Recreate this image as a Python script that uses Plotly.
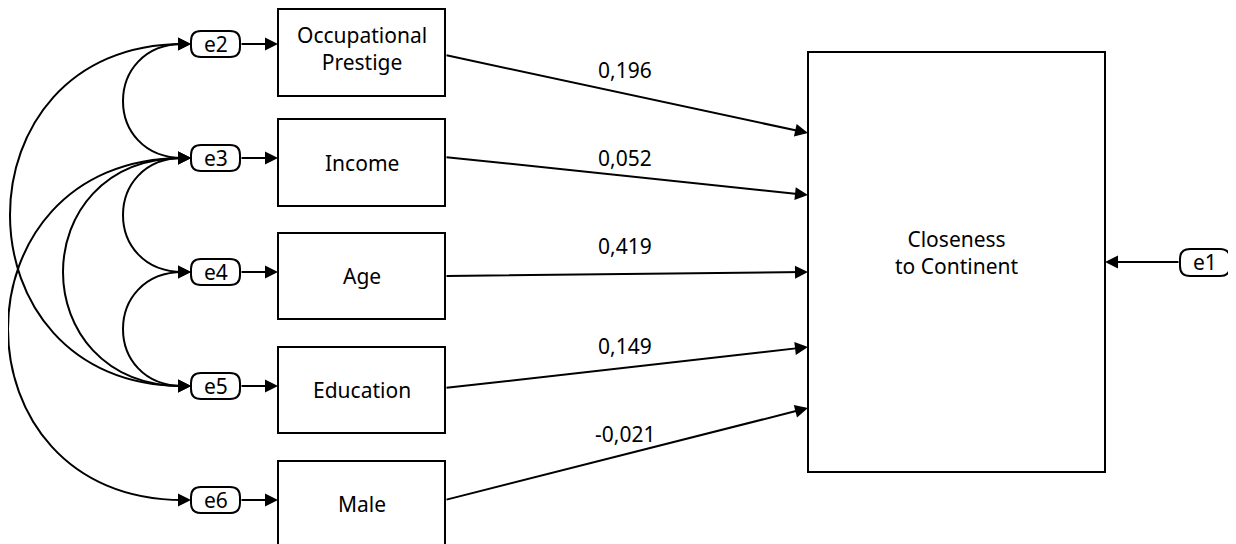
import plotly.graph_objects as go

# predictors, their error terms and path coefficients
predictors = ["Occupational<br>Prestige", "Income", "Age", "Education", "Male"]
errors = ["e2", "e3", "e4", "e5", "e6"]
coefs = ["0,196", "0,052", "0,419", "0,149", "-0,021"]
outcome = "Closeness<br>to Continent"
outcome_error = "e1"
# covariances between error terms (index pairs)
covs = [(0, 1), (1, 2), (2, 3), (1, 3), (0, 3), (1, 4)]

# layout (pixel-like coordinates, y down)
row_y = [44, 158, 272, 386, 500]
box_top = [9, 119, 233, 347, 461]
box_bot = [96, 206, 319, 433, 547]
box_x0, box_x1 = 278, 445
ex0, ex1 = 191, 240
out_x0, out_x1, out_y0, out_y1 = 808, 1105, 52, 472
target_y = [133, 195, 272, 347, 408]
start_y = [55, 157, 276, 388, 500]
label_xy = [(625, 70), (625, 158), (625, 246), (625, 346), (625, 434)]
cov_x = [125, 125, 125, 65, 12, 10]

font = dict(family="Noto Sans", size=21, color="black")
shapes, ann = [], []
line = dict(color="black", width=2)


def arrow(x0, y0, x1, y1):
    ann.append(dict(x=x1, y=y1, ax=x0, ay=y0, xref="x", yref="y", axref="x", ayref="y",
                    showarrow=True, arrowhead=2, arrowsize=1.3, arrowwidth=2, arrowcolor="black", text=""))


def rbox(x0, y0, x1, y1, r=10):
    p = (f"M{x0+r},{y0} L{x1-r},{y0} Q{x1},{y0} {x1},{y0+r} L{x1},{y1-r} Q{x1},{y1} {x1-r},{y1} "
         f"L{x0+r},{y1} Q{x0},{y1} {x0},{y1-r} L{x0},{y0+r} Q{x0},{y0} {x0+r},{y0} Z")
    shapes.append(dict(type="path", path=p, line=line, xref="x", yref="y"))


for i, name in enumerate(predictors):
    y = row_y[i]
    shapes.append(dict(type="rect", x0=box_x0, x1=box_x1, y0=box_top[i], y1=box_bot[i], line=line))
    ann.append(dict(x=(box_x0 + box_x1) / 2, y=(box_top[i] + box_bot[i]) / 2 - (4 if i == 0 else 0),
                    text=name, showarrow=False, font=font))
    rbox(ex0, y - 13, ex1, y + 13)
    ann.append(dict(x=(ex0 + ex1) / 2, y=y, text=errors[i], showarrow=False, font=font))
    arrow(ex1, y, box_x0, y)
    arrow(box_x1, start_y[i], out_x0, target_y[i])
    ann.append(dict(x=label_xy[i][0], y=label_xy[i][1], text=coefs[i], showarrow=False, font=font))

shapes.append(dict(type="rect", x0=out_x0, x1=out_x1, y0=out_y0, y1=out_y1, line=line))
ann.append(dict(x=(out_x0 + out_x1) / 2, y=252, text=outcome, showarrow=False, font=font))
rbox(1180, 249, 1230, 276)
ann.append(dict(x=1205, y=262, text=outcome_error, showarrow=False, font=font))
arrow(1180, 262, out_x1, 262)

for (a, b), xc in zip(covs, cov_x):
    ya, yb = row_y[a], row_y[b]
    c = ex0 + (xc - ex0) / 0.75
    shapes.append(dict(type="path", path=f"M{ex0-8},{ya} C{c},{ya} {c},{yb} {ex0-8},{yb}",
                       line=line, xref="x", yref="y"))
    arrow(ex0 - 14, ya, ex0, ya)
    arrow(ex0 - 14, yb, ex0, yb)

fig = go.Figure()
# the page adds an 8px body margin; size the figure so data units equal window pixels
fig.update_layout(width=1228, height=536, margin=dict(l=0, r=0, t=0, b=0),
                  plot_bgcolor="white", paper_bgcolor="white", shapes=shapes, annotations=ann,
                  xaxis=dict(range=[8, 1236], visible=False, fixedrange=True),
                  yaxis=dict(range=[544, 8], visible=False, fixedrange=True),
                  showlegend=False)
fig.write_html("out.html")
